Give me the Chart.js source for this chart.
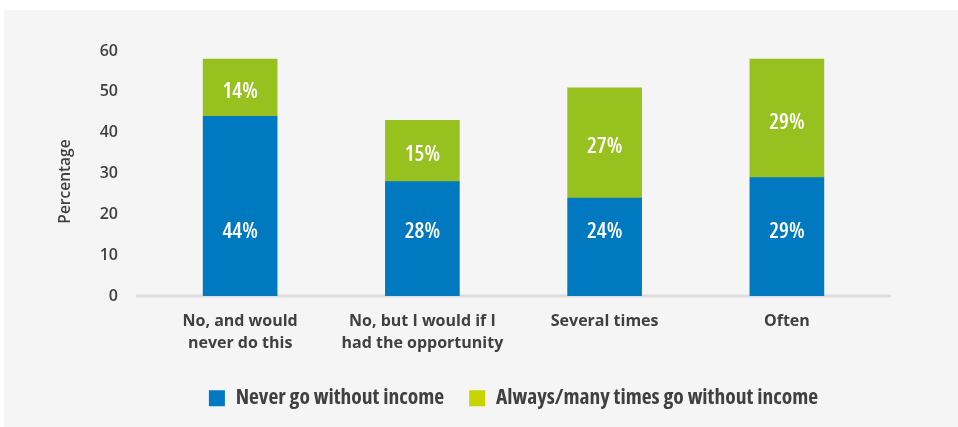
<!DOCTYPE html>
<html>
<head>
<meta charset="utf-8">
<script src="https://cdn.jsdelivr.net/npm/chart.js@4.4.1/dist/chart.umd.min.js"></script>
<style>
  html, body { margin: 0; padding: 0; background: #ffffff; }
  #panel { position: absolute; left: 4px; top: 10px; width: 954px; height: 417px; background: #f5f5f5; }
  canvas { display: block; }
</style>
</head>
<body>
<div id="panel"><canvas id="chart" width="954" height="417"></canvas></div>
<script>
// Categories (x axis), wrapped over two lines where needed
const categories = [
  ["No, and would", "never do this"],
  ["No, but I would if I", "had the opportunity"],
  ["Several times"],
  ["Often"]
];
// Share of respondents, in percent
const neverWithout = [44, 28, 24, 29];
const alwaysWithout = [14, 15, 27, 29];
const seriesNames = ["Never go without income", "Always/many times go without income"];
const yTicks = [0, 10, 20, 30, 40, 50, 60];
const yTitle = "Percentage";

const BLUE = "#0079c1";
const GREEN = "#97c11f";
const LEGEND_GREEN = "#c8d400";
const TEXT = "#404040";
const SANS = '"Open Sans", "Noto Sans", sans-serif';

// Light baseline under the bars, running a little past the plot area
const baselinePlugin = {
  id: "baseline",
  beforeDatasetsDraw(chart) {
    const { ctx, chartArea, scales } = chart;
    const y = scales.y.getPixelForValue(0);
    ctx.save();
    ctx.strokeStyle = "#dddddd";
    ctx.lineWidth = 3;
    ctx.beginPath();
    ctx.moveTo(chartArea.left - 13, y);
    ctx.lineTo(chartArea.right + 13, y);
    ctx.stroke();
    ctx.restore();
  }
};

// Value labels printed in white inside each segment
const valueLabelPlugin = {
  id: "valueLabels",
  afterDatasetsDraw(chart) {
    const { ctx } = chart;
    ctx.save();
    ctx.fillStyle = "#ffffff";
    ctx.font = "condensed 600 22px " + SANS;
    ctx.textAlign = "center";
    ctx.textBaseline = "middle";
    chart.data.datasets.forEach((ds, di) => {
      const meta = chart.getDatasetMeta(di);
      meta.data.forEach((bar, i) => {
        const y = di === 0 ? bar.base - 64 : (bar.y + bar.base) / 2 + 4;
        ctx.fillText(ds.data[i] + "%", bar.x, y);
      });
    });
    ctx.restore();
  }
};

// Rotated axis title to the left of the value ticks
const yTitlePlugin = {
  id: "yTitle",
  afterDraw(chart) {
    const { ctx, chartArea } = chart;
    ctx.save();
    ctx.translate(62, (chartArea.top + chartArea.bottom) / 2 + 8);
    ctx.rotate(-Math.PI / 2);
    ctx.fillStyle = TEXT;
    ctx.font = "600 15.5px " + SANS;
    ctx.textAlign = "center";
    ctx.textBaseline = "middle";
    ctx.fillText(yTitle, 0, 0);
    ctx.restore();
  }
};

function draw() {
  new Chart(document.getElementById("chart"), {
    type: "bar",
    data: {
      labels: categories,
      datasets: [
        { label: seriesNames[0], data: neverWithout, backgroundColor: BLUE, barThickness: 74 },
        { label: seriesNames[1], data: alwaysWithout, backgroundColor: GREEN, barThickness: 74 }
      ]
    },
    plugins: [baselinePlugin, valueLabelPlugin, yTitlePlugin],
    options: {
      responsive: false,
      animation: false,
      devicePixelRatio: 1,
      layout: { padding: { top: 41, right: 80, bottom: 8, left: 0 } },
      plugins: {
        tooltip: { enabled: false },
        legend: {
          position: "bottom",
          fullSize: false,
          labels: {
            color: TEXT,
            font: { family: SANS, size: 21.5, weight: "condensed bold" },
            boxWidth: 16,
            boxHeight: 16,
            padding: 25,
            generateLabels(chart) {
              const items = Chart.defaults.plugins.legend.labels.generateLabels(chart);
              const swatches = [BLUE, LEGEND_GREEN];
              items.forEach((it, i) => {
                it.fillStyle = swatches[i];
                it.strokeStyle = swatches[i];
                it.lineWidth = 0;
              });
              return items;
            }
          }
        }
      },
      scales: {
        x: {
          stacked: true,
          grid: { display: false, drawTicks: false },
          border: { display: false },
          ticks: {
            color: TEXT,
            font: { family: SANS, size: 16, weight: "bold", lineHeight: 22 / 16 },
            padding: 14,
            autoSkip: false,
            maxRotation: 0,
            minRotation: 0
          },
          afterFit(scale) { scale.height = 66.5; }
        },
        y: {
          stacked: true,
          min: yTicks[0],
          max: yTicks[yTicks.length - 1],
          grid: { display: false, drawTicks: false },
          border: { display: false },
          ticks: {
            stepSize: 10,
            color: TEXT,
            font: { family: SANS, size: 16, weight: "600" },
            padding: 31
          },
          afterBuildTicks(scale) { scale.ticks = yTicks.map(v => ({ value: v })); },
          afterFit(scale) { scale.width = 145; }
        }
      }
    }
  });
}

const fontLoads = [
  'condensed bold 21px "Open Sans"',
  'bold 16px "Open Sans"',
  '600 16px "Open Sans"'
].map(f => document.fonts.load(f).catch(() => null));
Promise.all(fontLoads).then(draw, draw);
</script>
</body>
</html>
